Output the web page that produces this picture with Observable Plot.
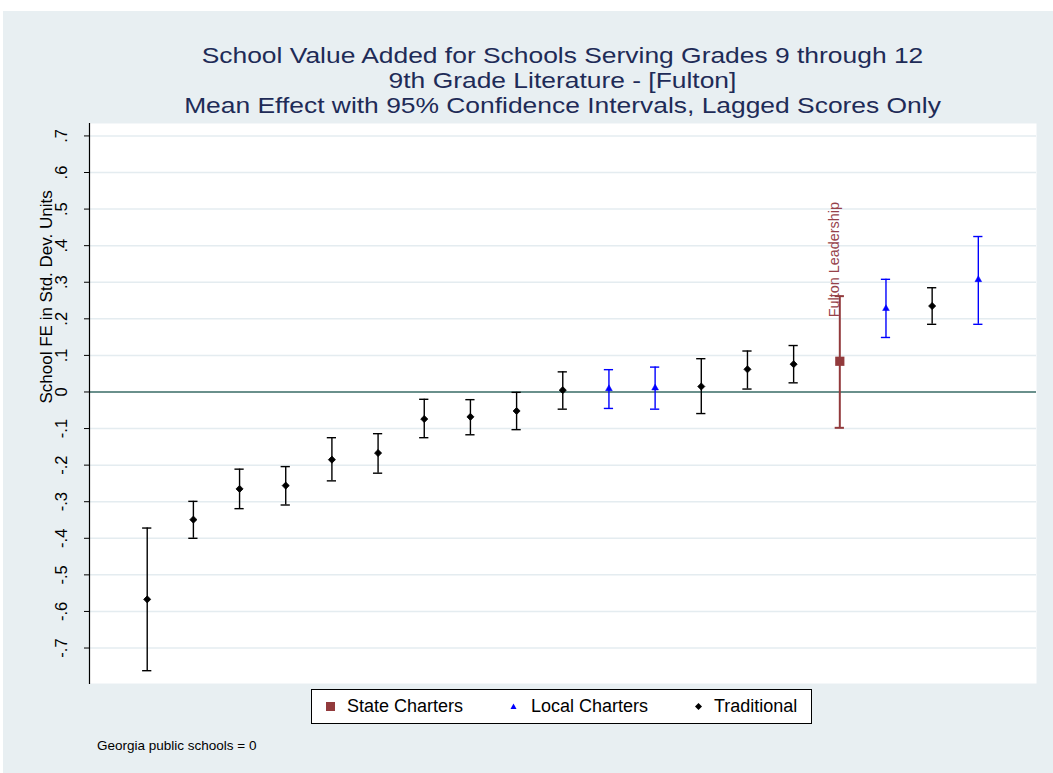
<!DOCTYPE html>
<html>
<head>
<meta charset="utf-8">
<script src="https://cdn.jsdelivr.net/npm/d3@7"></script>
<script src="https://cdn.jsdelivr.net/npm/@observablehq/plot@0.6"></script>
<style>
  html, body { margin: 0; padding: 0; background: #ffffff; }
  body { width: 1053px; height: 773px; position: relative; overflow: hidden; font-family: "Liberation Sans", Arial, sans-serif; }
  #bg { position: absolute; left: 3px; top: 11px; width: 1050px; height: 762px; background: #e8eff2; }
  #chart { position: absolute; left: 0; top: 0; }
  #title { position: absolute; left: 89px; width: 947px; top: 43px; text-align: center; color: #1e2b57; font-size: 22px; line-height: 25px; }
  #title div { transform: scaleX(1.2); transform-origin: center; white-space: nowrap; }
  #legend { position: absolute; left: 311px; top: 689px; width: 499px; height: 33px; border: 1px solid #000; background: #fff; }
  .item { position: absolute; top: 0; height: 33px; line-height: 33px; font-size: 18px; color: #000; white-space: nowrap; }
  .item svg { position: absolute; top: 0; }
  #caption { position: absolute; left: 97px; top: 738px; font-size: 13.5px; color: #000; }
</style>
</head>
<body>
<div id="bg"></div>
<div id="chart"></div>
<div id="title"><div>School Value Added for Schools Serving Grades 9 through 12</div><div>9th Grade Literature - [Fulton]</div><div>Mean Effect with 95% Confidence Intervals, Lagged Scores Only</div></div>
<div id="legend"></div>
<div id="caption">Georgia public schools = 0</div>
<script>
// ---- data ----
const schoolRank = [1,2,3,4,5,6,7,8,9,10,11,12,13,14,15,16,17,18,19];
const schoolType = ["Traditional","Traditional","Traditional","Traditional","Traditional","Traditional","Traditional","Traditional","Traditional","Traditional","Local Charters","Local Charters","Traditional","Traditional","Traditional","State Charters","Local Charters","Traditional","Local Charters"];
const estimate = [-0.567,-0.349,-0.265,-0.256,-0.185,-0.167,-0.074,-0.068,-0.052,0.005,0.009,0.011,0.015,0.062,0.076,0.084,0.228,0.235,0.307];
const ciLow  = [-0.762,-0.400,-0.319,-0.309,-0.243,-0.222,-0.125,-0.117,-0.103,-0.047,-0.045,-0.047,-0.059,0.008,0.025,-0.098,0.149,0.185,0.185];
const ciHigh = [-0.372,-0.299,-0.211,-0.204,-0.125,-0.114,-0.020,-0.021,-0.001,0.055,0.061,0.068,0.091,0.112,0.127,0.262,0.308,0.285,0.425];
const schoolLabel = ["","","","","","","","","","","","","","","","Fulton Leadership","","",""];
const yTicks = [-0.7,-0.6,-0.5,-0.4,-0.3,-0.2,-0.1,0,0.1,0.2,0.3,0.4,0.5,0.6,0.7];
const yTickLabels = ["-.7","-.6","-.5","-.4","-.3","-.2","-.1","0",".1",".2",".3",".4",".5",".6",".7"];
const legendTypes = ["State Charters","Local Charters","Traditional"];
const yTitle = "School FE in Std. Dev. Units";

const colors = {"State Charters": "#923a3c", "Local Charters": "#0000ff", "Traditional": "#000000"};

const rows = schoolRank.map((r, i) => ({rank: r, type: schoolType[i], est: estimate[i], lo: ciLow[i], hi: ciHigh[i], label: schoolLabel[i]}));
const ofType = t => rows.filter(d => d.type === t);
const capHalf = 0.1;

const chart = Plot.plot({
  width: 1053,
  height: 773,
  marginLeft: 89,
  marginRight: 17,
  marginTop: 123,
  marginBottom: 90,
  style: {background: "transparent", fontFamily: "'Liberation Sans', Arial, sans-serif", overflow: "visible"},
  x: {domain: [-0.25, 20.26], axis: null},
  y: {domain: [-0.797, 0.734], axis: null},
  marks: [
    Plot.frame({fill: "#ffffff", stroke: null}),
    Plot.ruleY(yTicks, {stroke: "#e4ecf0", strokeWidth: 1.5}),
    Plot.ruleY([0], {stroke: "#3f6f6a", strokeWidth: 1.6}),
    Plot.axisY({ticks: yTicks, tickSize: 5, tickFormat: d => yTickLabels[yTicks.indexOf(d)], tickRotate: -90, tickPadding: 18, fontSize: 16.5, stroke: "#000", color: "#000"}),
    Plot.frame({anchor: "left", stroke: "#000", strokeWidth: 1.2}),
    Plot.text([yTitle], {frameAnchor: "left", rotate: -90, dx: -43, fontSize: 17, fill: "#000"}),
    // error bars
    ...legendTypes.map(t => Plot.ruleX(ofType(t), {x: "rank", y1: "lo", y2: "hi", stroke: colors[t], strokeWidth: t === "State Charters" ? 2 : 1.4})),
    ...legendTypes.map(t => Plot.ruleY(ofType(t), {x1: d => d.rank - capHalf, x2: d => d.rank + capHalf, y: "lo", stroke: colors[t], strokeWidth: t === "State Charters" ? 2 : 1.4})),
    ...legendTypes.map(t => Plot.ruleY(ofType(t), {x1: d => d.rank - capHalf, x2: d => d.rank + capHalf, y: "hi", stroke: colors[t], strokeWidth: t === "State Charters" ? 2 : 1.4})),
    // markers
    Plot.dot(ofType("Traditional"), {x: "rank", y: "est", symbol: "diamond2", r: 3.2, fill: colors["Traditional"], stroke: colors["Traditional"], strokeWidth: 0.8}),
    Plot.dot(ofType("Local Charters"), {x: "rank", y: "est", symbol: "triangle", r: 2.5, fill: colors["Local Charters"], stroke: colors["Local Charters"], strokeWidth: 0.5}),
    Plot.dot(ofType("State Charters"), {x: "rank", y: "est", symbol: "square", r: 5.2, fill: colors["State Charters"], stroke: null}),
    // label
    Plot.text(rows.filter(d => d.label), {x: "rank", y: "est", text: "label", rotate: -90, textAnchor: "start", dy: -44, dx: -5, fontSize: 14.4, fill: "#96424a"})
  ]
});
document.getElementById("chart").appendChild(chart);

// legend
const legend = document.getElementById("legend");
const legendPos = [{m: 14, t: 35}, {m: 197, t: 219}, {m: 382, t: 402}];
const shapes = {
  "State Charters": '<rect x="0" y="0" width="9" height="9" fill="' + colors["State Charters"] + '"/>',
  "Local Charters": '<path d="M4.5,1.5 L7.5,7 L1.5,7 Z" fill="' + colors["Local Charters"] + '"/>',
  "Traditional": '<path d="M4.5,1 L8,4.5 L4.5,8 L1,4.5 Z" fill="#000"/>'
};
legendTypes.forEach((t, i) => {
  const mk = document.createElement("div");
  mk.className = "item";
  mk.style.left = legendPos[i].m + "px";
  mk.innerHTML = '<svg width="9" height="9" style="top:12px">' + shapes[t] + '</svg>';
  legend.appendChild(mk);
  const tx = document.createElement("div");
  tx.className = "item";
  tx.style.left = legendPos[i].t + "px";
  tx.textContent = t;
  legend.appendChild(tx);
});
</script>
</body>
</html>
